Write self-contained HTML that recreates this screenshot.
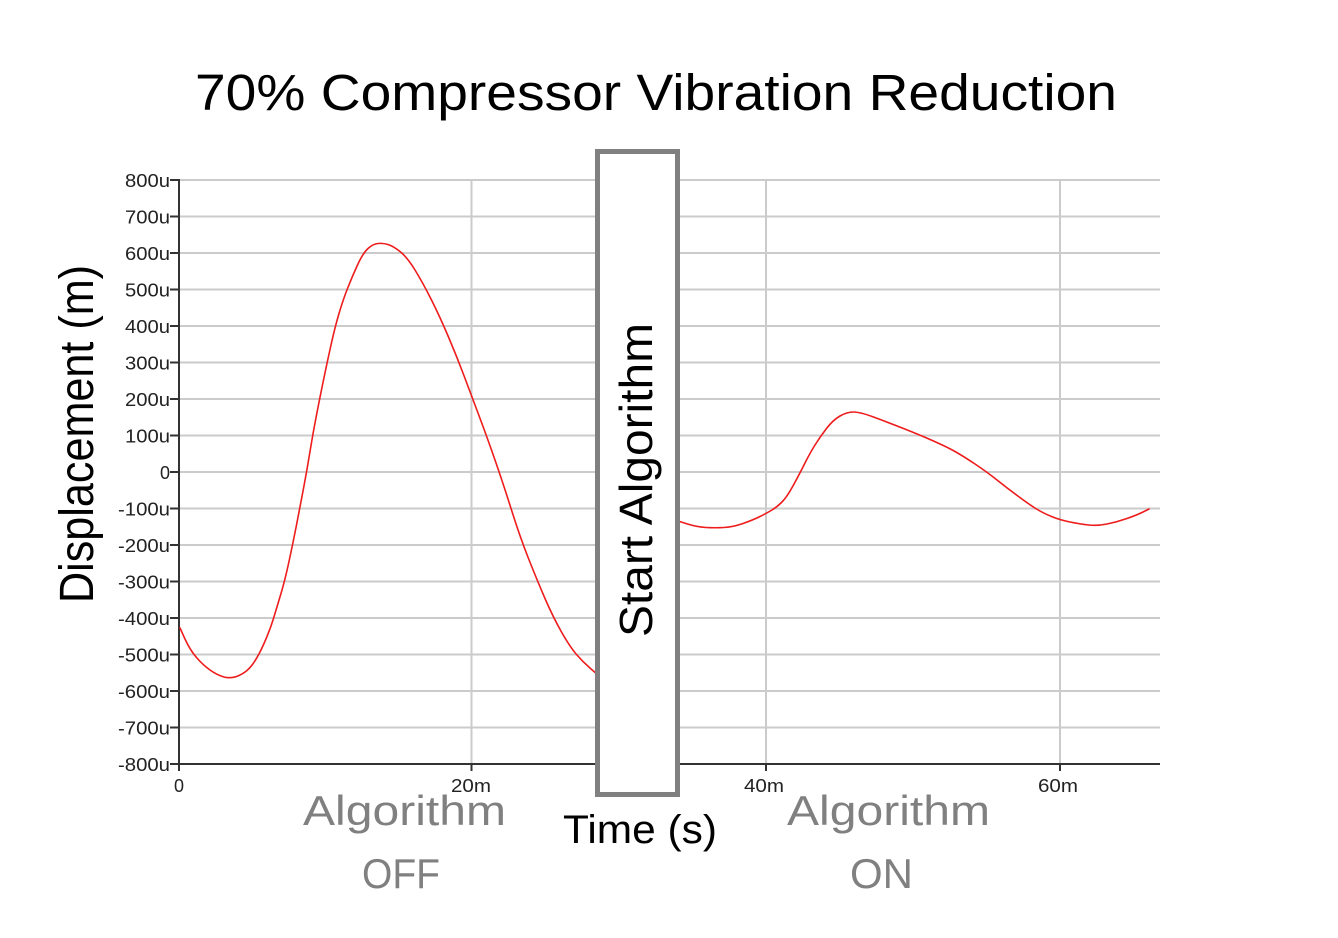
<!DOCTYPE html>
<html>
<head>
<meta charset="utf-8">
<style>
html,body{margin:0;padding:0;background:#fff;}
svg{display:block;}
text{font-family:"Liberation Sans",sans-serif;}
</style>
</head>
<body>
<svg width="1338" height="938" viewBox="0 0 1338 938" xmlns="http://www.w3.org/2000/svg">
<rect x="0" y="0" width="1338" height="938" fill="#fff"/>

<!-- Title -->
<text x="195" y="110" font-size="51" fill="#000" textLength="922" lengthAdjust="spacingAndGlyphs">70% Compressor Vibration Reduction</text>

<!-- horizontal gridlines -->
<g stroke="#cbcbcb" stroke-width="2">
<line x1="180" y1="180" x2="1160" y2="180"/>
<line x1="180" y1="216.5" x2="1160" y2="216.5"/>
<line x1="180" y1="253" x2="1160" y2="253"/>
<line x1="180" y1="289.5" x2="1160" y2="289.5"/>
<line x1="180" y1="326" x2="1160" y2="326"/>
<line x1="180" y1="362.5" x2="1160" y2="362.5"/>
<line x1="180" y1="399" x2="1160" y2="399"/>
<line x1="180" y1="435.5" x2="1160" y2="435.5"/>
<line x1="180" y1="472" x2="1160" y2="472"/>
<line x1="180" y1="508.5" x2="1160" y2="508.5"/>
<line x1="180" y1="545" x2="1160" y2="545"/>
<line x1="180" y1="581.5" x2="1160" y2="581.5"/>
<line x1="180" y1="618" x2="1160" y2="618"/>
<line x1="180" y1="654.5" x2="1160" y2="654.5"/>
<line x1="180" y1="691" x2="1160" y2="691"/>
<line x1="180" y1="727.5" x2="1160" y2="727.5"/>
<!-- vertical gridlines -->
<line x1="471.5" y1="180" x2="471.5" y2="764"/>
<line x1="766" y1="180" x2="766" y2="764"/>
<line x1="1060" y1="180" x2="1060" y2="764"/>
</g>

<!-- axes -->
<g stroke="#333" stroke-width="2">
<line x1="179" y1="179" x2="179" y2="765"/>
<line x1="178" y1="764" x2="1160" y2="764"/>
<line x1="170" y1="180" x2="179" y2="180"/>
<line x1="170" y1="216.5" x2="179" y2="216.5"/>
<line x1="170" y1="253" x2="179" y2="253"/>
<line x1="170" y1="289.5" x2="179" y2="289.5"/>
<line x1="170" y1="326" x2="179" y2="326"/>
<line x1="170" y1="362.5" x2="179" y2="362.5"/>
<line x1="170" y1="399" x2="179" y2="399"/>
<line x1="170" y1="435.5" x2="179" y2="435.5"/>
<line x1="170" y1="472" x2="179" y2="472"/>
<line x1="170" y1="508.5" x2="179" y2="508.5"/>
<line x1="170" y1="545" x2="179" y2="545"/>
<line x1="170" y1="581.5" x2="179" y2="581.5"/>
<line x1="170" y1="618" x2="179" y2="618"/>
<line x1="170" y1="654.5" x2="179" y2="654.5"/>
<line x1="170" y1="691" x2="179" y2="691"/>
<line x1="170" y1="727.5" x2="179" y2="727.5"/>
<line x1="170" y1="764" x2="179" y2="764"/>
<line x1="179" y1="764" x2="179" y2="771"/>
<line x1="471.5" y1="764" x2="471.5" y2="771"/>
<line x1="766" y1="764" x2="766" y2="771"/>
<line x1="1060" y1="764" x2="1060" y2="771"/>
</g>

<!-- y tick labels -->
<g font-size="18" fill="#222" text-anchor="end">
<text x="170" y="187" textLength="45" lengthAdjust="spacingAndGlyphs">800u</text>
<text x="170" y="223.5" textLength="45" lengthAdjust="spacingAndGlyphs">700u</text>
<text x="170" y="260" textLength="45" lengthAdjust="spacingAndGlyphs">600u</text>
<text x="170" y="296.5" textLength="45" lengthAdjust="spacingAndGlyphs">500u</text>
<text x="170" y="333" textLength="45" lengthAdjust="spacingAndGlyphs">400u</text>
<text x="170" y="369.5" textLength="45" lengthAdjust="spacingAndGlyphs">300u</text>
<text x="170" y="406" textLength="45" lengthAdjust="spacingAndGlyphs">200u</text>
<text x="170" y="442.5" textLength="45" lengthAdjust="spacingAndGlyphs">100u</text>
<text x="170" y="479">0</text>
<text x="170" y="515.5" textLength="52" lengthAdjust="spacingAndGlyphs">-100u</text>
<text x="170" y="552" textLength="52" lengthAdjust="spacingAndGlyphs">-200u</text>
<text x="170" y="588.5" textLength="52" lengthAdjust="spacingAndGlyphs">-300u</text>
<text x="170" y="625" textLength="52" lengthAdjust="spacingAndGlyphs">-400u</text>
<text x="170" y="661.5" textLength="52" lengthAdjust="spacingAndGlyphs">-500u</text>
<text x="170" y="698" textLength="52" lengthAdjust="spacingAndGlyphs">-600u</text>
<text x="170" y="734.5" textLength="52" lengthAdjust="spacingAndGlyphs">-700u</text>
<text x="170" y="771" textLength="52" lengthAdjust="spacingAndGlyphs">-800u</text>
</g>

<!-- x tick labels -->
<g font-size="18" fill="#222" text-anchor="middle">
<text x="179" y="792">0</text>
<text x="471" y="792" textLength="40" lengthAdjust="spacingAndGlyphs">20m</text>
<text x="764" y="792" textLength="40" lengthAdjust="spacingAndGlyphs">40m</text>
<text x="1058" y="792" textLength="40" lengthAdjust="spacingAndGlyphs">60m</text>
</g>

<!-- data curve -->
<g fill="none" stroke="#ee1c1c" stroke-width="1.6" stroke-linejoin="round" stroke-linecap="round">
<path d="M180,628 L185,639 Q190,650 196.5,657.5 Q203,665 210,670 Q217,675 224,677 Q231,679 239,675.5 Q247,672 252.5,664.5 Q258,657 264,643.5 Q270,630 273.5,618.5 Q277,607 281,593.5 Q285,580 289,561.5 Q293,543 296.5,525 Q300,507 303.5,488.5 Q307,470 310,451.5 Q313,433 316.5,415 Q320,397 323.5,380 Q327,363 331,345 Q335,327 339,313.5 Q343,300 347.5,288.5 Q352,277 357.5,265 Q363,253 368,248.5 Q373,244 378,243.5 Q383,243 388,244.5 Q393,246 400,251.5 Q407,257 415,270 Q423,283 431.5,300 Q440,317 448.5,337 Q457,357 464.5,377 Q472,397 479.5,417 Q487,437 495,460 Q503,483 511.5,510 Q520,537 528.5,558.5 Q537,580 545,598.5 Q553,617 561.5,632 Q570,647 576.5,654.5 Q583,662 590.5,668.5 L598,675"/>
<path d="M678,521 L687.5,524 Q697,527 706,527.5 Q715,528 724,527.5 Q733,527 743,523.5 Q753,520 760,516.5 Q767,513 772,510 Q777,507 782,502 Q787,497 793.5,485 Q800,473 805,463 Q810,453 815,445 Q820,437 826.5,428.5 Q833,420 840,416 Q847,412 853.5,412 Q860,412 873.5,417 Q887,422 903.5,428.5 Q920,435 933.5,441 Q947,447 955,451.5 Q963,456 975,464 Q987,472 997,480 Q1007,488 1018.5,496.5 Q1030,505 1036.5,509 Q1043,513 1051.5,516.5 Q1060,520 1070,522 Q1080,524 1088.5,525 Q1097,526 1107,524 Q1117,522 1127,518.5 Q1137,515 1143,512 L1149,509"/>
</g>

<!-- Start Algorithm box -->
<rect x="597.5" y="151.5" width="80" height="643" fill="#fff" stroke="#808080" stroke-width="5"/>
<text transform="translate(652,637) rotate(-90)" font-size="46" fill="#000" textLength="314" lengthAdjust="spacingAndGlyphs">Start Algorithm</text>

<!-- Y axis label -->
<text transform="translate(93,603) rotate(-90)" font-size="48" fill="#000" textLength="338" lengthAdjust="spacingAndGlyphs">Displacement (m)</text>

<!-- X axis label -->
<text x="563" y="843" font-size="40" fill="#000" textLength="154" lengthAdjust="spacingAndGlyphs">Time (s)</text>

<!-- Algorithm OFF / ON -->
<g font-size="42" fill="#808080">
<text x="303" y="825" textLength="203" lengthAdjust="spacingAndGlyphs">Algorithm</text>
<text x="362" y="888" textLength="78" lengthAdjust="spacingAndGlyphs">OFF</text>
<text x="787" y="825" textLength="203" lengthAdjust="spacingAndGlyphs">Algorithm</text>
<text x="850" y="888" textLength="63" lengthAdjust="spacingAndGlyphs">ON</text>
</g>
</svg>
</body>
</html>
